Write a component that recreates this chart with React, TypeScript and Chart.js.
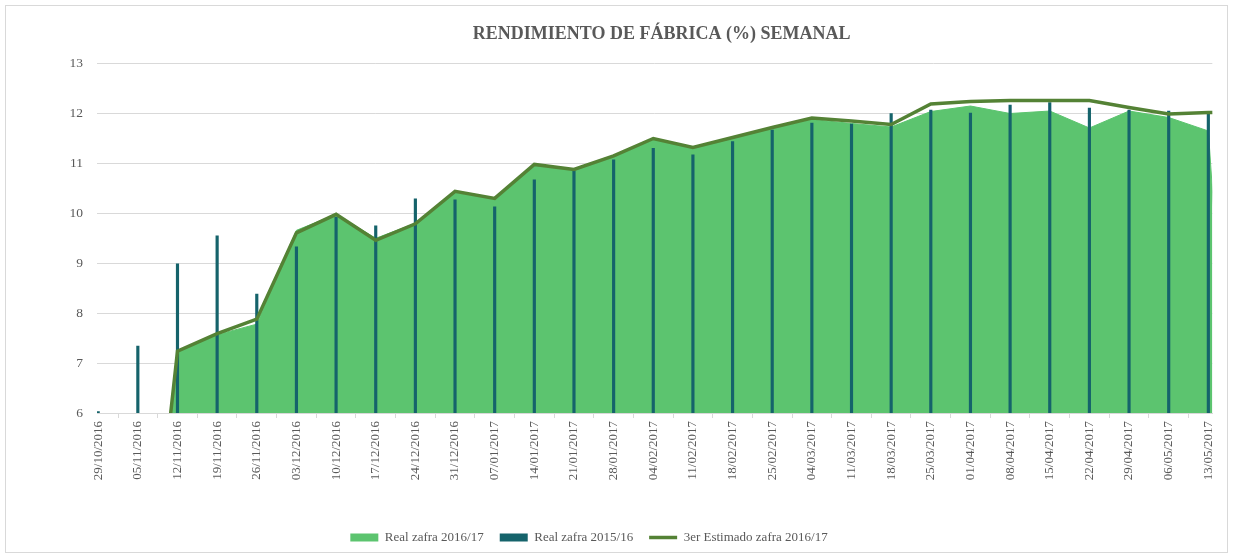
import React, { useEffect, useRef } from "react";
import { Chart, registerables } from "chart.js";

Chart.register(...registerables);

const dateLabels = [
  "29/10/2016", "05/11/2016", "12/11/2016", "19/11/2016", "26/11/2016",
  "03/12/2016", "10/12/2016", "17/12/2016", "24/12/2016", "31/12/2016",
  "07/01/2017", "14/01/2017", "21/01/2017", "28/01/2017", "04/02/2017",
  "11/02/2017", "18/02/2017", "25/02/2017", "04/03/2017", "11/03/2017",
  "18/03/2017", "25/03/2017", "01/04/2017", "08/04/2017", "15/04/2017",
  "22/04/2017", "29/04/2017", "06/05/2017", "13/05/2017",
];

// Real zafra 2016/17 (area); last value belongs to the week just past the visible axis
const real1617 = [
  0, 0, 7.24, 7.57, 7.78, 9.66, 9.98, 9.5, 9.8, 10.42,
  10.28, 10.96, 10.86, 11.13, 11.48, 11.3, 11.5, 11.7, 11.88, 11.8,
  11.73, 12.04, 12.15, 12.0, 12.05, 11.71, 12.05, 11.92, 11.65, 0,
];

// Real zafra 2015/16 (thin bars)
const real1516 = [
  6.03, 7.34, 8.99, 9.55, 8.38, 9.33, 9.92, 9.75, 10.29, 10.27,
  10.13, 10.67, 10.85, 11.07, 11.3, 11.17, 11.44, 11.67, 11.81, 11.79,
  12.0, 12.07, 12.01, 12.17, 12.22, 12.11, 12.07, 12.05, 12.0,
];

// 3er Estimado zafra 2016/17 (line)
const estimado = [
  0, 0, 7.24, 7.59, 7.88, 9.61, 9.98, 9.46, 9.79, 10.44,
  10.3, 10.98, 10.88, 11.15, 11.5, 11.32, 11.52, 11.72, 11.91, 11.85,
  11.78, 12.19, 12.24, 12.26, 12.26, 12.26, 12.12, 11.99, 12.02, 12.04,
];

const yTicks = [6, 7, 8, 9, 10, 11, 12, 13];

const FONT = "'Liberation Serif', 'Times New Roman', serif";
const TEXT = "#595959";
const GRID = "#d9d9d9";

const shiftBoxes = {
  id: "shiftBoxes",
  afterLayout(chart: any) {
    const t = chart.titleBlock;
    if (t) {
      t.left += 7;
      t.right += 7;
    }
    const l = chart.legend;
    if (l) {
      l.left -= 21;
      l.right -= 21;
    }
  },
};

export default function App() {
  const ref = useRef<HTMLCanvasElement | null>(null);

  useEffect(() => {
    if (!ref.current) return;
    const toXY = (arr: number[]) => arr.map((y, i) => ({ x: i, y }));
    const chart = new Chart(ref.current, {
      type: "line",
      plugins: [shiftBoxes],
      data: {
        datasets: [
          {
            type: "line",
            label: "Real zafra 2016/17",
            data: toXY(real1617),
            backgroundColor: "#5cc46f",
            borderColor: "#5cc46f",
            borderWidth: 1,
            pointRadius: 0,
            fill: "start",
            tension: 0,
            order: 3,
            clip: 0,
          } as any,
          {
            type: "bar",
            label: "Real zafra 2015/16",
            data: toXY(real1516),
            backgroundColor: "#15636b",
            borderColor: "#15636b",
            borderWidth: 0,
            barThickness: 2.5,
            order: 2,
            clip: 0,
          } as any,
          {
            type: "line",
            label: "3er Estimado zafra 2016/17",
            data: toXY(estimado),
            borderColor: "#548235",
            backgroundColor: "#548235",
            borderWidth: 3.5,
            pointRadius: 0,
            fill: false,
            tension: 0,
            order: 1,
            clip: 0,
          } as any,
        ],
      },
      options: {
        animation: false,
        responsive: true,
        maintainAspectRatio: false,
        layout: { padding: { left: 0, right: 13, top: 0, bottom: -2 } },
        plugins: {
          tooltip: { enabled: false },
          title: {
            display: true,
            fullSize: false,
            text: "RENDIMIENTO DE FÁBRICA (%) SEMANAL",
            color: TEXT,
            font: { family: FONT, size: 18, weight: "bold" },
            padding: { top: 18, bottom: 18 },
          },
          legend: {
            position: "bottom",
            labels: {
              usePointStyle: true,
              pointStyleWidth: 28,
              boxHeight: 8,
              padding: 16,
              color: TEXT,
              font: { family: FONT, size: 13 },
              sort: (a: any, b: any) => a.datasetIndex - b.datasetIndex,
              generateLabels: (c: any) => {
                const items = Chart.defaults.plugins.legend.labels.generateLabels(c);
                return items.map((it: any) => {
                  if (it.datasetIndex === 2) {
                    return { ...it, pointStyle: "line", lineWidth: 3.5, strokeStyle: "#548235" };
                  }
                  return { ...it, pointStyle: "rect", lineWidth: 0 };
                });
              },
            },
          },
        },
        scales: {
          x: {
            type: "linear",
            min: -0.03,
            max: 28.1,
            offset: false,
            grid: {
              display: true,
              drawOnChartArea: false,
              drawTicks: true,
              tickLength: 5,
              color: GRID,
            },
            border: { display: true, color: GRID, width: 1 },
            ticks: {
              stepSize: 1,
              includeBounds: false,
              autoSkip: false,
              maxRotation: 90,
              minRotation: 90,
              padding: 3,
              color: TEXT,
              font: { family: FONT, size: 13 },
              callback: (v: any) => dateLabels[v as number] ?? "",
            },
            afterFit: (s: any) => {
              s.height = 102;
            },
          },
          y: {
            type: "linear",
            min: 6,
            max: 13,
            afterBuildTicks: (s: any) => {
              s.ticks = yTicks.map((v) => ({ value: v }));
            },
            grid: { color: GRID, lineWidth: 1, drawTicks: false },
            border: { display: false },
            ticks: {
              padding: 14,
              color: TEXT,
              font: { family: FONT, size: 13.5 },
            },
            afterFit: (s: any) => {
              s.width = 91;
            },
          },
        },
      },
    });
    return () => chart.destroy();
  }, []);

  return (
    <div
      style={{
        position: "absolute",
        left: 5,
        top: 5,
        width: 1223,
        height: 548,
        border: "1px solid #d9d9d9",
        boxSizing: "border-box",
        background: "#fff",
      }}
    >
      <div style={{ position: "relative", width: "100%", height: "100%" }}>
        <canvas ref={ref} />
      </div>
    </div>
  );
}
